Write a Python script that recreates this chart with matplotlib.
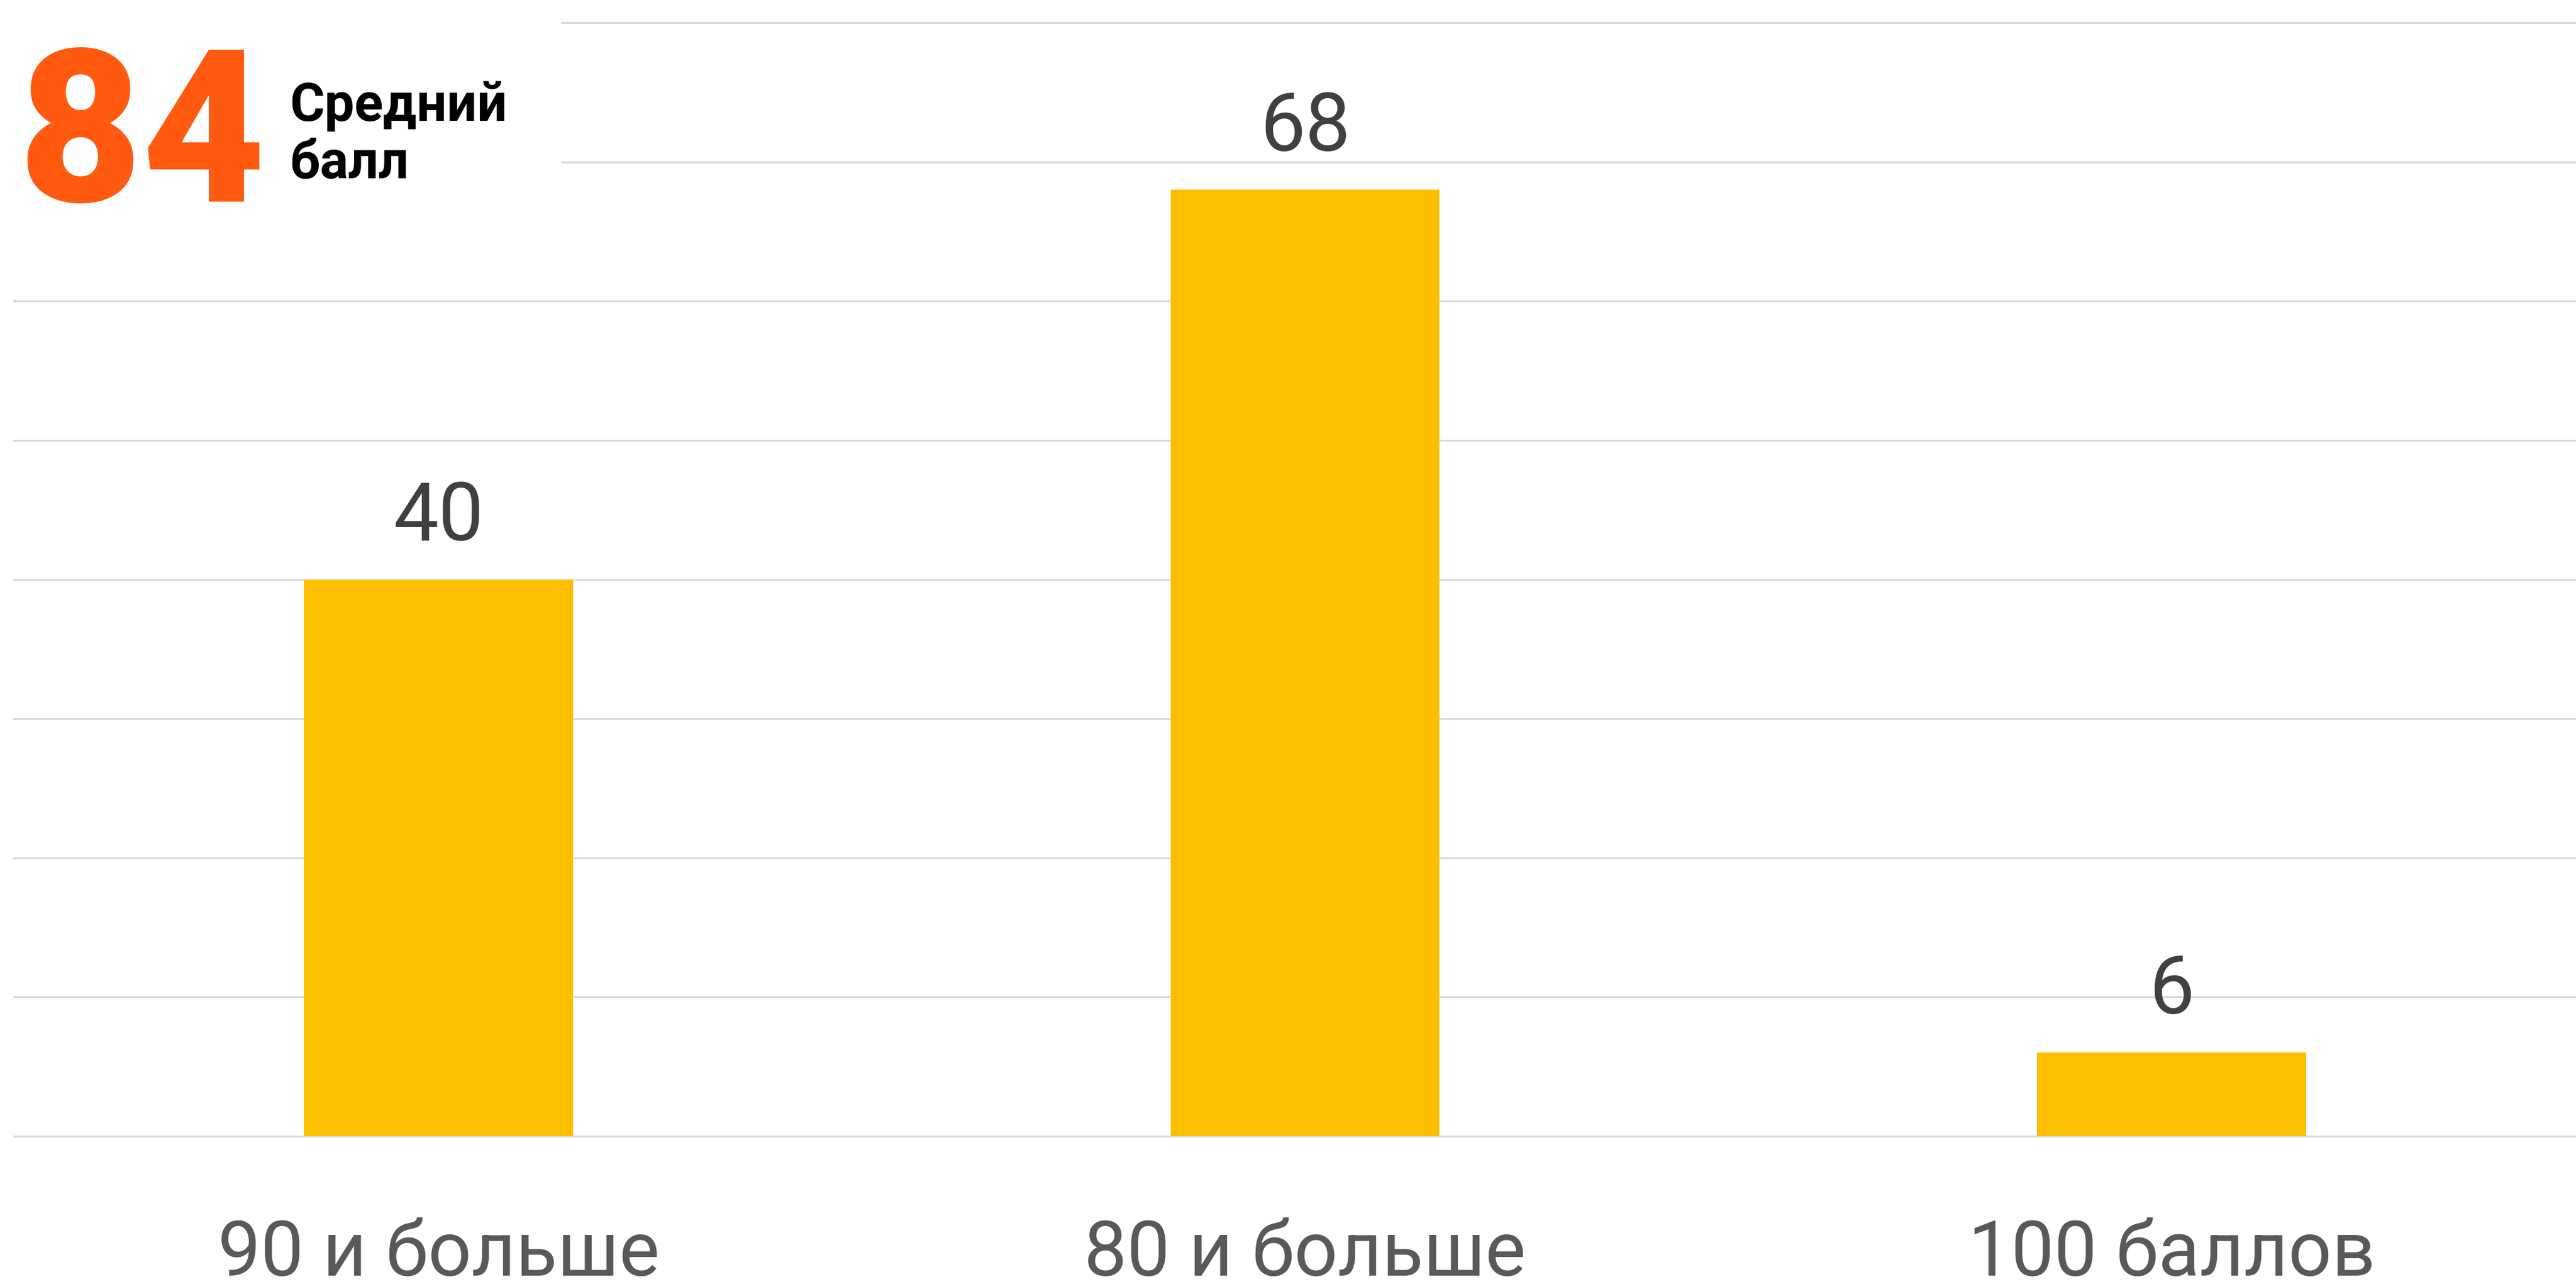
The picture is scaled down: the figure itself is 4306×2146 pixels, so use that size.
import matplotlib
matplotlib.use("Agg")
import matplotlib.pyplot as plt
from matplotlib.patches import Rectangle

categories = ["90 и больше", "80 и больше", "100 баллов"]
values = [40, 68, 6]
big_number = "84"
caption_lines = ["Средний", "балл"]
grid_ticks = list(range(0, 81, 10))

W, H = 4306, 2146
DPI = 100
fig = plt.figure(figsize=(W / DPI, H / DPI), dpi=DPI)
fig.patch.set_facecolor("white")

px_per_unit = 23.26
base_px = 1899
ylow = -3
ytop = base_px / px_per_unit
ax_bottom_px = base_px + (-ylow) * px_per_unit
ax_left_px = 22
ax = fig.add_axes([ax_left_px / W, (H - ax_bottom_px) / H, 1 - ax_left_px / W, ax_bottom_px / H])

x_unit = 1448.5
x0_px = 733
ax.set_xlim((ax_left_px - x0_px) / x_unit, (W - x0_px) / x_unit)
ax.set_ylim(ylow, ytop)

xs = list(range(len(categories)))
ax.bar(xs, values, width=0.31, color="#FCBF00", zorder=2)

ax.set_yticks(grid_ticks)
ax.grid(axis="y", color="#d9d9d9", linewidth=2.2, zorder=0)
ax.set_axisbelow(True)
ax.tick_params(left=False, bottom=False, labelleft=False, labelbottom=False)
for s in ax.spines.values():
    s.set_visible(False)
ax.set_xticks([])

fam = ["Roboto", "DejaVu Sans"]
for x, v in zip(xs, values):
    ax.annotate(str(v), xy=(x, v), xytext=(0, 47), textcoords="offset points",
                ha="center", va="baseline", fontsize=97, color="#404040",
                family=fam, fontweight="normal")

for x, c in zip(xs, categories):
    ax.text(x, (base_px - 2132) / px_per_unit, c, ha="center", va="baseline",
            fontsize=92, color="#595959", family=fam, fontweight="normal", clip_on=False)

# white box behind the headline
fig.patches.append(Rectangle((0, 1 - 380 / H), 938 / W, 380 / H, transform=fig.transFigure,
                             facecolor="white", edgecolor="none", zorder=1))

fig.text(30 / W, 1 - 337 / H, big_number, ha="left", va="baseline", fontsize=257,
         color="#FF5A0F", family=["Roboto", "DejaVu Sans"], fontweight="black", zorder=3)
fig.text(484 / W, 1 - 202 / H, caption_lines[0], ha="left", va="baseline", fontsize=64,
         color="black", family=fam, fontweight="bold", zorder=3)
fig.text(484 / W, 1 - 298 / H, caption_lines[1], ha="left", va="baseline", fontsize=64,
         color="black", family=fam, fontweight="bold", zorder=3)

fig.savefig("out.png", dpi=DPI, facecolor="white")
